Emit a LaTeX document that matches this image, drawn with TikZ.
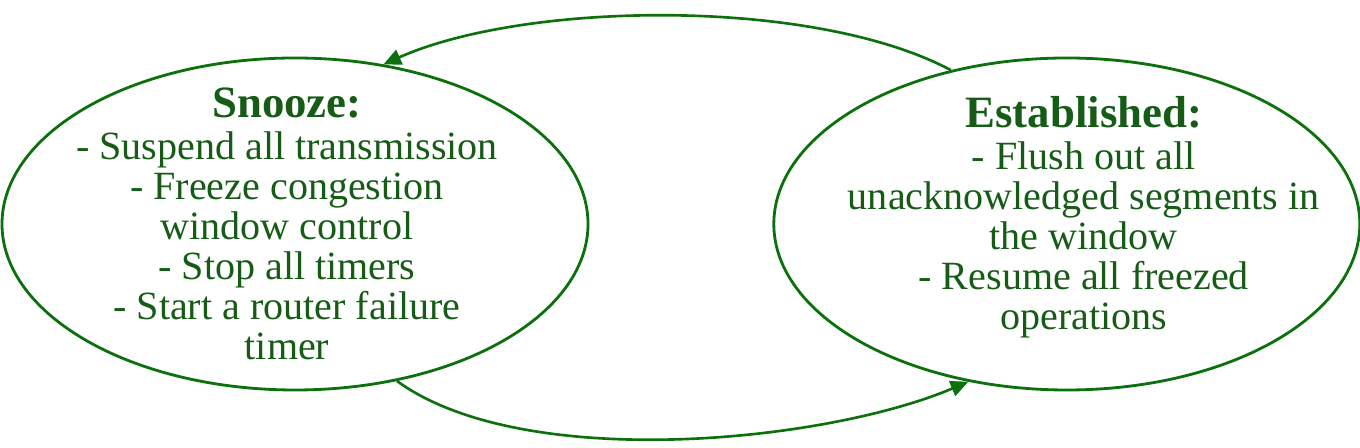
\documentclass[tikz,border=0pt]{standalone}
\usepackage{fontspec}
\setmainfont{Liberation Serif}
\usetikzlibrary{positioning,arrows.meta,shapes.geometric}
\definecolor{StateGreen}{RGB}{12,112,12}
\definecolor{TextGreen}{RGB}{22,92,22}

\begin{document}
\begin{tikzpicture}[state/.style={draw=StateGreen,line width=1.6pt,ellipse,inner sep=0pt,minimum width=11.72cm,minimum height=6.64cm}, statetext/.style={text=TextGreen,align=center,font=\fontsize{22.8}{22.8}\selectfont}, title/.style={}, arrow/.style={draw=StateGreen,line width=1.5pt,-{Triangle[length=10pt,width=9pt]},looseness=0.7}]
\useasboundingbox (0,0) rectangle (27.2,8.96);
\node[state] (snooze) at (5.9,4.48) {};
\node[state,right=3.66cm of snooze] (established) {};
\node[statetext,xshift=-0.16cm] (snoozetext) at (snooze) {{\fontsize{25.5}{25.5}\selectfont\bfseries Snooze:}\\[1pt]- Suspend all transmission\\- Freeze congestion\\window control\\- Stop all timers\\- Start a router failure\\timer};
\node[statetext,xshift=0.34cm,yshift=0.14cm] (establishedtext) at (established) {{\fontsize{25.5}{25.5}\selectfont\bfseries Established:}\\[1pt]- Flush out all\\unacknowledged segments in\\the window\\- Resume all freezed\\operations};
\draw[arrow] (established.127) to[out=152,in=24] (snooze.61);
\draw[arrow] (snooze.303) to[out=-36,in=203] (established.238);
\end{tikzpicture}
\end{document}
